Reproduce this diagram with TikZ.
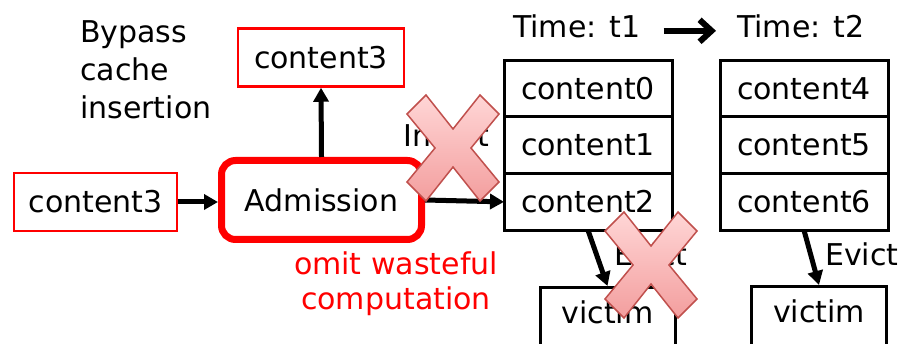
\documentclass[tikz,border=0pt]{standalone}
\usepackage{fontspec}
\setmainfont{DejaVu Sans}
\usetikzlibrary{positioning, arrows.meta, calc}

\definecolor{crossTop}{RGB}{255,214,214}
\definecolor{crossBottom}{RGB}{243,158,158}
\definecolor{crossLine}{RGB}{192,80,77}

\tikzset{
  every node/.style={font=\fontsize{30}{38}\selectfont},
  redbox/.style={draw=red, line width=2.5pt, minimum width=166pt, minimum height=58pt, inner sep=0pt},
  cell/.style={draw=black, line width=3pt, minimum width=168pt, minimum height=56.7pt, inner sep=0pt, outer sep=0pt},
  victimbox/.style={draw=black, line width=3pt, minimum width=135pt, inner xsep=0pt, inner ysep=14pt,
    text height=22pt, text depth=40pt, anchor=north},
  label/.style={anchor=base west, inner sep=0pt},
  flow/.style={line width=5pt, -{Triangle[length=14pt,width=15pt]}},
}

\begin{document}
\begin{tikzpicture}[x=1pt, y=-1pt]
  \useasboundingbox (0,0) rectangle (901,344);
  \clip (0,0) rectangle (901,344);

  % admission
  \node[redbox, minimum width=163pt] (in3) at (95.5,202) {content3};
  \node[draw=red, line width=7pt, rounded corners=14pt, minimum width=200pt, minimum height=79pt, inner sep=0pt] (adm) at (321.5,200) {Admission};
  \node[redbox] (out3) at (321,57.5) {content3};
  \node[anchor=north west, align=left, inner sep=0pt] (bypass) at (80,20) {Bypass\\cache\\insertion};
  \node[anchor=north, align=center, inner sep=0pt, text=red, font=\fontsize{30}{35}\selectfont] (omit) at (396,252) {omit wasteful\\computation};

  % cache at t1
  \node[cell] (c0) at (588,88.5) {content0};
  \node[cell, below=0pt of c0] (c1) {content1};
  \node[cell, below=0pt of c1] (c2) {content2};
  \node[victimbox] (v1) at (607.5,286) {victim};

  % cache at t2
  \node[cell] (c4) at (804,88.5) {content4};
  \node[cell, below=0pt of c4] (c5) {content5};
  \node[cell, below=0pt of c5] (c6) {content6};
  \node[victimbox] (v2) at (819,285) {victim};

  \node[label] (time1) at (513,38) {Time: t1};
  \node[label] (time2) at (737,38) {Time: t2};
  \node[label] (ins) at (403,147) {Insert};
  \node[label] (ev1) at (614,266) {Evict};
  \node[label] (ev2) at (825,266) {Evict};

  % arrows
  \draw[flow] (in3.east) -- (adm.west |- in3.east);
  \draw[flow] (adm.north) -- (out3.south);
  \draw[flow] (adm.east) -- (c2.west);
  \draw[flow] (c2.south) -- (v1.north);
  \draw[flow] (c6.south) -- (v2.north);
  \draw[line width=6pt, -{Straight Barb[length=12pt,width=22pt]}, shorten <=23pt, shorten >=21pt]
    ([yshift=-4pt]time1.east) -- ([yshift=-4pt]time2.west);

  % crossed-out steps
  \foreach \cx/\cy in {453/148, 651/265}{
    \shade[top color=crossTop, bottom color=crossBottom, draw=crossLine, line width=1.5pt, shift={(\cx,\cy)}]
      (-46,-34) -- (-27,-53) -- (0,-19) -- (27,-53) -- (46,-34) -- (18,0)
      -- (46,34) -- (27,53) -- (0,19) -- (-27,53) -- (-46,34) -- (-18,0) -- cycle;
  }
\end{tikzpicture}
\end{document}
